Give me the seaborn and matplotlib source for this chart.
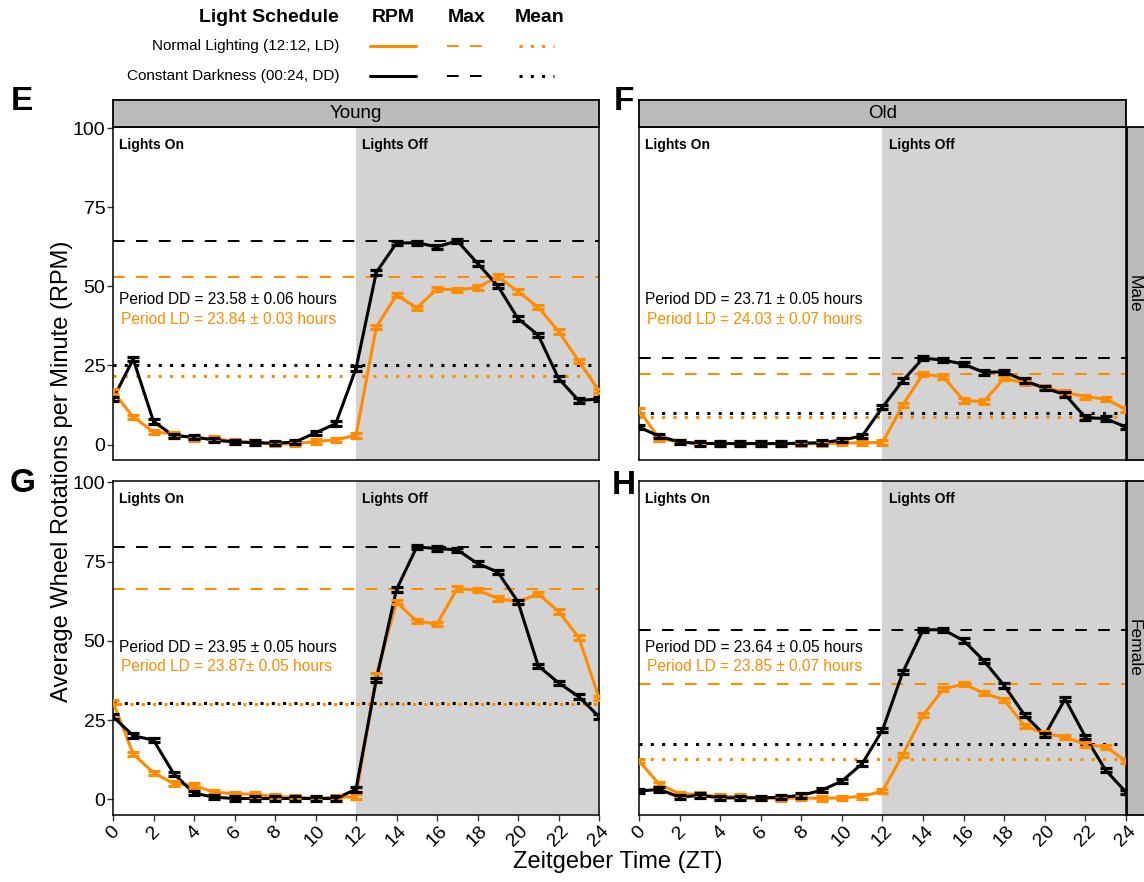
import matplotlib
matplotlib.use("Agg")
import matplotlib.pyplot as plt
from matplotlib.lines import Line2D
import pandas as pd
import seaborn as sns

sns.set_theme(style="white")
plt.rcParams["font.family"] = ["Liberation Sans", "DejaVu Sans"]
plt.rcParams["text.color"] = "black"
plt.rcParams["xtick.color"] = "black"
plt.rcParams["ytick.color"] = "black"

# ---- data -------------------------------------------------------------
zt = list(range(25))
x_ticks = list(range(0, 25, 2))
y_ticks = [0, 25, 50, 75, 100]

LD = "Normal Lighting (12:12, LD)"
DD = "Constant Darkness (00:24, DD)"

young_male_ld = [16.7, 8.7, 4.0, 3.4, 1.9, 1.9, 0.9, 0.6, 0.1, 0.3, 0.9, 1.5, 2.9,
                 37.1, 47.3, 43.2, 49.2, 48.9, 49.6, 53.1, 48.4, 43.4, 35.8, 26.4, 17.0]
young_male_dd = [14.4, 27.0, 7.3, 2.7, 2.4, 1.4, 0.8, 0.6, 0.4, 0.8, 3.7, 6.6, 24.0,
                 54.4, 63.7, 63.8, 62.5, 64.4, 57.3, 50.2, 39.8, 34.6, 20.9, 13.9, 14.4]
old_male_ld = [10.8, 1.9, 0.8, 0.4, 0.3, 0.3, 0.3, 0.3, 0.2, 0.3, 0.4, 0.6, 0.6,
               12.5, 22.3, 21.4, 13.9, 13.6, 21.0, 19.4, 18.1, 16.5, 15.1, 14.4, 11.1]
old_male_dd = [5.5, 2.6, 0.8, 0.3, 0.3, 0.3, 0.3, 0.3, 0.4, 0.6, 1.4, 2.7, 11.8,
               20.2, 27.3, 26.7, 25.4, 22.8, 23.0, 20.2, 17.8, 15.8, 8.5, 8.2, 5.5]
young_female_ld = [30.8, 14.3, 8.4, 5.0, 4.4, 2.3, 1.8, 1.6, 0.9, 0.7, 0.4, 0.6, 0.9,
                   39.1, 62.2, 56.2, 55.3, 66.5, 66.0, 63.4, 62.3, 64.8, 59.3, 51.1, 32.0]
young_female_dd = [26.1, 20.1, 18.7, 8.1, 2.0, 0.7, 0.3, 0.3, 0.3, 0.3, 0.3, 0.3, 3.2,
                   37.7, 66.2, 79.6, 79.1, 78.7, 74.4, 71.7, 62.3, 42.1, 36.8, 32.4, 26.1]
old_female_ld = [12.1, 4.8, 1.8, 1.5, 0.9, 0.9, 0.5, 0.3, 0.5, 0.3, 0.5, 1.0, 2.6,
                 14.1, 26.6, 34.8, 36.4, 33.5, 31.4, 23.2, 20.8, 19.7, 17.3, 16.6, 12.1]
old_female_dd = [2.6, 3.2, 0.7, 1.3, 0.5, 0.5, 0.5, 0.7, 1.3, 2.9, 5.8, 11.3, 21.9,
                 40.1, 53.5, 53.5, 50.1, 43.7, 35.9, 26.6, 20.3, 31.7, 19.7, 9.2, 2.3]

# standard error of each hourly mean
sem_ld = 0.7
sem_dd = 0.7

# daily max / mean reference levels (LD, DD)
young_male_max = (53.1, 64.4)
young_male_mean = (21.7, 25.2)
old_male_max = (22.3, 27.3)
old_male_mean = (8.7, 9.9)
young_female_max = (66.5, 79.6)
young_female_mean = (30.2, 30.5)
old_female_max = (36.5, 53.5)
old_female_mean = (12.6, 17.6)

# free-running period annotations
young_male_period = ("Period DD = 23.58 \u00b1 0.06 hours", "Period LD = 23.84 \u00b1 0.03 hours")
old_male_period = ("Period DD = 23.71 \u00b1 0.05 hours", "Period LD = 24.03 \u00b1 0.07 hours")
young_female_period = ("Period DD = 23.95 \u00b1 0.05 hours", "Period LD = 23.87\u00b1 0.05 hours")
old_female_period = ("Period DD = 23.64 \u00b1 0.05 hours", "Period LD = 23.85 \u00b1 0.07 hours")

# ---- long-form table ---------------------------------------------------
series = [
    ("Young", "Male", young_male_ld, young_male_dd),
    ("Old", "Male", old_male_ld, old_male_dd),
    ("Young", "Female", young_female_ld, young_female_dd),
    ("Old", "Female", old_female_ld, old_female_dd),
]
rows = []
for age, sex, ld_vals, dd_vals in series:
    for sched, vals, err in ((LD, ld_vals, sem_ld), (DD, dd_vals, sem_dd)):
        for t, v in zip(zt, vals):
            rows.append(dict(age=age, sex=sex, schedule=sched, zt=t, rpm=v, err=err))
df = pd.DataFrame(rows)

refs = {
    ("Young", "Male"): (young_male_max, young_male_mean, young_male_period),
    ("Old", "Male"): (old_male_max, old_male_mean, old_male_period),
    ("Young", "Female"): (young_female_max, young_female_mean, young_female_period),
    ("Old", "Female"): (old_female_max, old_female_mean, old_female_period),
}

# ---- styling -----------------------------------------------------------
ORANGE = "#FF8C00"
BLACK = "#000000"
palette = {LD: ORANGE, DD: BLACK}
DARK_BG = "#D3D3D3"
STRIP = "#BABABA"
LINE_W = 2.2
DASH = (0, (5.8, 5.6))
DOT = (0, (1.0, 2.7))
DOT_SHIFTED = (1.85, (1.0, 2.7))

W, H = 1144, 882
fig = plt.figure(figsize=(W / 100, H / 100), dpi=100)


def fx(px):
    return px / W


def fy(px):
    return 1 - px / H


panel_box = {
    ("Young", "Male"): (113, 127, 599, 460),
    ("Old", "Male"): (639, 127, 1126, 460),
    ("Young", "Female"): (113, 481, 599, 815),
    ("Old", "Female"): (639, 481, 1126, 815),
}

for (age, sex), (x0, y0, x1, y1) in panel_box.items():
    ax = fig.add_axes([fx(x0), fy(y1), fx(x1 - x0), (y1 - y0) / H])
    ax.set_facecolor("white")
    ax.axvspan(12, 24, color=DARK_BG, zorder=0, lw=0)

    mx, mn, period = refs[(age, sex)]
    ax.axhline(mx[0], color=ORANGE, lw=1.45, ls=DASH, zorder=1)
    ax.axhline(mx[1], color=BLACK, lw=1.45, ls=DASH, zorder=1)
    # interleave the dots when both mean levels nearly coincide
    ld_dot = DOT_SHIFTED if abs(mn[0] - mn[1]) < 1 else DOT
    ax.axhline(mn[0], color=ORANGE, lw=2.2, ls=ld_dot, zorder=1)
    ax.axhline(mn[1], color=BLACK, lw=2.2, ls=DOT, zorder=1)

    sub = df[(df.age == age) & (df.sex == sex)]
    sns.lineplot(data=sub, x="zt", y="rpm", hue="schedule", hue_order=[LD, DD],
                 palette=palette, estimator=None, errorbar=None, lw=LINE_W,
                 legend=False, ax=ax, zorder=3)
    for sched in (LD, DD):
        s = sub[sub["schedule"] == sched]
        ax.errorbar(s["zt"], s["rpm"], yerr=s["err"], fmt="none",
                    ecolor=palette[sched], elinewidth=2.6, capsize=4.0,
                    capthick=2.3, zorder=4)

    ax.text(0.3, 94.8, "Lights On", fontsize=10, fontweight="bold", va="center")
    ax.text(12.3, 94.8, "Lights Off", fontsize=10, fontweight="bold", va="center")
    ytxt = (46.0, 39.4) if sex == "Male" else (47.8, 41.8)
    ax.text(0.3, ytxt[0], period[0], fontsize=11.2, color=BLACK, va="center")
    ax.text(0.4, ytxt[1], period[1], fontsize=11.2, color=ORANGE, va="center")

    ax.set_xlim(0, 24)
    ax.set_ylim(-4.9, 100.4)
    ax.set_xticks(x_ticks)
    ax.set_yticks(y_ticks)
    ax.set_xlabel("")
    ax.set_ylabel("")
    ax.tick_params(axis="both", direction="out", length=4, width=1.0,
                   color="#333333", labelsize=14, pad=1.5, left=True, bottom=True)
    if sex == "Male":
        ax.set_xticklabels([])
        ax.tick_params(axis="x", length=0)
    else:
        ax.set_xticklabels([str(t) for t in x_ticks], rotation=45,
                           ha="center", va="top")
    if age == "Old":
        ax.set_yticklabels([])
        ax.tick_params(axis="y", length=0)
    for sp in ax.spines.values():
        sp.set_color(BLACK)
        sp.set_linewidth(1.1)
        sp.set_visible(True)

    # facet strips
    if sex == "Male":
        st = fig.add_axes([fx(x0), fy(y0), fx(x1 - x0), 27 / H])
        st.set_facecolor(STRIP)
        st.set_xticks([])
        st.set_yticks([])
        for sp in st.spines.values():
            sp.set_color(BLACK)
            sp.set_linewidth(1.3)
        st.text(0.5, 0.5, age, fontsize=13.5, ha="center", va="center",
                transform=st.transAxes)
    if age == "Old":
        rs = fig.add_axes([fx(1127), fy(y1), fx(30), (y1 - y0) / H])
        rs.set_facecolor(STRIP)
        rs.set_xticks([])
        rs.set_yticks([])
        for sp in rs.spines.values():
            sp.set_color(BLACK)
            sp.set_linewidth(1.3)
        fig.text(fx(1134), fy((y0 + y1) / 2), sex, fontsize=12.5, rotation=-90,
                 ha="center", va="center")

# panel letters
for letter, (px, py) in {"E": (22, 102), "F": (624, 102),
                         "G": (23, 484), "H": (624, 486)}.items():
    fig.text(fx(px), fy(py), letter, fontsize=24, fontweight="bold",
             ha="center", va="center")

# shared axis titles
fig.text(fx(62), fy(471), "Average Wheel Rotations per Minute (RPM)",
         fontsize=17, rotation=90, ha="center", va="center")
fig.text(fx(618), fy(862), "Zeitgeber Time (ZT)", fontsize=17,
         ha="center", va="center")

# custom legend
fig.text(fx(339), fy(17), "Light Schedule", fontsize=14, fontweight="bold",
         ha="right", va="center")
for label, cx in (("RPM", 393), ("Max", 467), ("Mean", 540)):
    fig.text(fx(cx), fy(17), label, fontsize=14, fontweight="bold",
             ha="center", va="center")
for sched, ypx in ((LD, 46), (DD, 76)):
    col = palette[sched]
    fig.text(fx(339), fy(ypx), sched, fontsize=11, ha="right", va="center")
    fig.add_artist(Line2D([fx(370), fx(416)], [fy(ypx), fy(ypx)], color=col,
                          lw=LINE_W, transform=fig.transFigure))
    fig.add_artist(Line2D([fx(447), fx(487)], [fy(ypx), fy(ypx)], color=col,
                          lw=1.45, ls=DASH, transform=fig.transFigure))
    fig.add_artist(Line2D([fx(519), fx(554)], [fy(ypx), fy(ypx)], color=col,
                          lw=2.2, ls=DOT, transform=fig.transFigure))

fig.savefig("out.png", dpi=100)
